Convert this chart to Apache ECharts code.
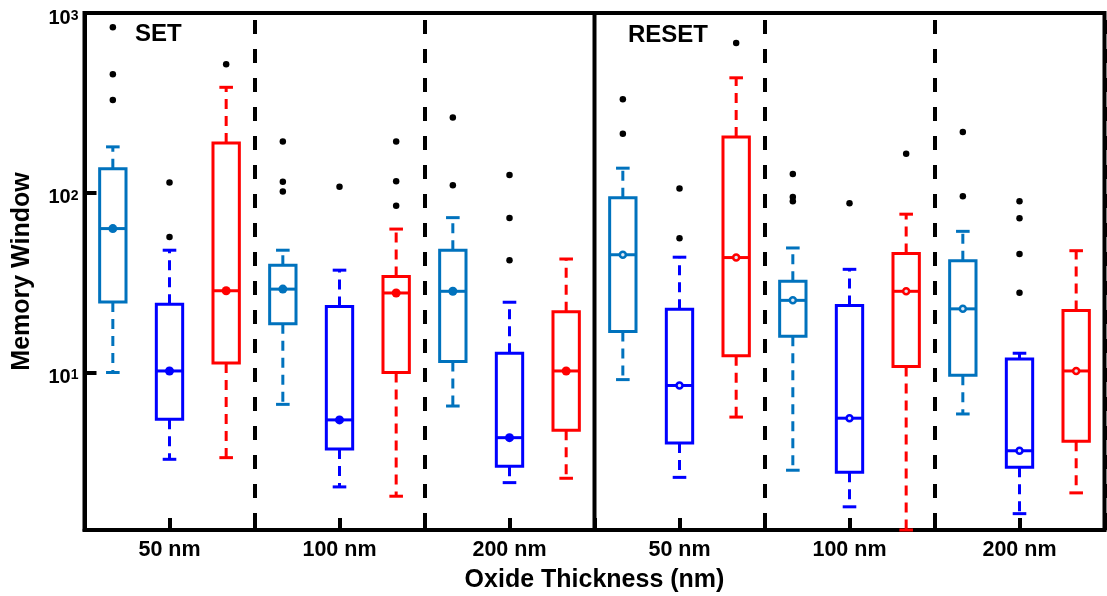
<!DOCTYPE html>
<html>
<head>
<meta charset="utf-8">
<script src="https://cdn.jsdelivr.net/npm/echarts@6/dist/echarts.min.js"></script>
<style>html,body{margin:0;padding:0;background:#fff;}#c{width:1107px;height:596px;}</style>
</head>
<body>
<div id="c"></div>
<script>
// ---- data ----
var modes = ['SET', 'RESET'];
var groupLabels = ['50 nm', '100 nm', '200 nm', '50 nm', '100 nm', '200 nm'];
var yTickValues = [10, 100, 1000];
var yMin = 1.33, yMax = 1000;
// box stats per group: [min, q1, median, q3, max]
var lightBlueBoxes = [
  [10.0, 24.7, 63.2, 136, 180],
  [6.65, 18.7, 29.1, 39.5, 47.9],
  [6.51, 11.5, 28.3, 47.9, 72.7],
  [9.13, 16.9, 45.2, 93.8, 137],
  [2.86, 15.9, 25.2, 32.2, 49.3],
  [5.88, 9.67, 22.6, 41.9, 61.0]
];
var blueBoxes = [
  [3.29, 5.50, 10.2, 24.0, 47.9],
  [2.31, 3.75, 5.45, 23.3, 37.1],
  [2.44, 3.01, 4.34, 12.8, 24.6],
  [2.61, 4.05, 8.47, 22.5, 43.8],
  [1.79, 2.79, 5.57, 23.6, 37.5],
  [1.64, 2.97, 3.67, 11.9, 12.8]
];
var redBoxes = [
  [3.36, 11.3, 28.5, 189, 386],
  [2.05, 10.0, 27.7, 34.2, 62.8],
  [2.58, 4.78, 10.2, 21.8, 42.8],
  [5.65, 12.4, 43.6, 204, 436],
  [1.33, 10.8, 28.3, 46.0, 76.0],
  [2.14, 4.15, 10.2, 22.1, 47.6]
];
var lightBlueOutliers = [[833, 456, 328], [193, 115, 101.6], [262, 110], [331, 213], [127, 94.6, 89.6], [218, 95.5]];
var blueOutliers = [[114, 56.8], [108], [125.6, 72.3, 42.1], [105.6, 55.8], [87.4], [89.6, 72.1, 45.6, 27.8]];
var redOutliers = [[519], [193, 116, 84.7], [], [681], [165], []];

// ---- build ----
var FONT = 'Liberation Sans, Arial, Helvetica, sans-serif';
var colors = ['#0072BD', '#0000FF', '#FF0000'];
var boxSets = [lightBlueBoxes, blueBoxes, redBoxes];
var outSets = [lightBlueOutliers, blueOutliers, redOutliers];
var slotsPerGroup = 3;
var slots = [];
for (var g = 0; g < groupLabels.length; g++) for (var k = 0; k < slotsPerGroup; k++) slots.push('g' + g + 's' + k);
var groupsPerMode = groupLabels.length / modes.length;

function renderBox(color) {
  return function (params, api) {
    var x = api.value(0);
    var v = [api.value(1), api.value(2), api.value(3), api.value(4), api.value(5)];
    var ys = v.map(function (val) { return api.coord([x, val])[1]; });
    var cx = api.coord([x, v[2]])[0];
    var band = api.size([1, 0], [x, v[2]])[0];
    var bw = band * 0.465, cw = band * 0.24;
    var hollow = Math.floor(x / slotsPerGroup) >= groupsPerMode;
    var ls = { stroke: color, lineWidth: 3, fill: 'none' };
    var ds = { stroke: color, lineWidth: 3, lineDash: [10, 7], fill: 'none' };
    return {
      type: 'group',
      children: [
        { type: 'line', shape: { x1: cx, y1: ys[3], x2: cx, y2: ys[4] }, style: ds },
        { type: 'line', shape: { x1: cx, y1: ys[1], x2: cx, y2: ys[0] }, style: ds },
        { type: 'line', shape: { x1: cx - cw / 2, y1: ys[4], x2: cx + cw / 2, y2: ys[4] }, style: ls },
        { type: 'line', shape: { x1: cx - cw / 2, y1: ys[0], x2: cx + cw / 2, y2: ys[0] }, style: ls },
        { type: 'rect', shape: { x: cx - bw / 2, y: ys[3], width: bw, height: ys[1] - ys[3] }, style: ls },
        { type: 'line', shape: { x1: cx - bw / 2, y1: ys[2], x2: cx + bw / 2, y2: ys[2] }, style: ls },
        hollow
          ? { type: 'circle', shape: { cx: cx, cy: ys[2], r: 3 }, style: { fill: '#dfe8f5', stroke: color, lineWidth: 2.5 } }
          : { type: 'circle', shape: { cx: cx, cy: ys[2], r: 4.5 }, style: { fill: color } }
      ]
    };
  };
}

var series = [];
// solid separator between SET and RESET halves (at the start of the first RESET slot)
series.push({
  type: 'custom', xAxisIndex: 0, yAxisIndex: 0, silent: true, z: 2,
  encode: { x: 0, y: 1 },
  data: [[groupsPerMode * slotsPerGroup, 10]],
  renderItem: function (params, api) {
    var xi = api.value(0);
    var band = api.size([1, 0], [xi, 10])[0];
    var x = api.coord([xi, 10])[0] - band / 2;
    var cs = params.coordSys;
    return { type: 'line', shape: { x1: x, y1: cs.y, x2: x, y2: cs.y + cs.height }, style: { stroke: '#000', lineWidth: 4 } };
  }
});
for (var c = 0; c < 3; c++) {
  var data = boxSets[c].map(function (b, gi) { return [gi * slotsPerGroup + c].concat(b); });
  series.push({
    type: 'custom', xAxisIndex: 0, yAxisIndex: 0,
    renderItem: renderBox(colors[c]),
    encode: { x: 0, y: [1, 2, 3, 4, 5] },
    data: data, z: 3
  });
}
var outData = [];
for (var c2 = 0; c2 < 3; c2++) {
  outSets[c2].forEach(function (arr, gi) {
    arr.forEach(function (val) { outData.push([gi * slotsPerGroup + c2, val]); });
  });
}
series.push({
  type: 'scatter', xAxisIndex: 0, yAxisIndex: 0,
  symbol: 'circle', symbolSize: 6.5,
  itemStyle: { color: '#000', opacity: 1 }, data: outData, z: 4
});

var option = {
  animation: false,
  backgroundColor: '#fff',
  grid: { left: 84.5, top: 13, width: 1020, height: 517, show: true, borderColor: '#000', borderWidth: 4, containLabel: false, outerBoundsMode: 'none' },
  xAxis: [
    {
      type: 'category', data: slots, position: 'bottom', boundaryGap: true,
      axisLine: { show: true, lineStyle: { color: '#000', width: 4 } },
      axisTick: { show: true, inside: true, length: 12, interval: function (i) { return i % 3 === 0; }, lineStyle: { color: '#000', width: 4 } },
      axisLabel: { show: false },
      splitLine: { show: true, interval: function (i) { return i % 3 === 0 && i % 9 !== 0; }, lineStyle: { color: '#000', width: 4, type: [14, 15], dashOffset: 22 } }
    },
    {
      type: 'category', data: groupLabels, position: 'bottom', boundaryGap: true,
      axisLine: { show: false },
      axisTick: { show: true, inside: true, alignWithLabel: true, length: 12, lineStyle: { color: '#000', width: 4 } },
      axisLabel: { show: true, margin: 9, color: '#000', fontSize: 21.5, fontWeight: 'bold', fontFamily: FONT },
      splitLine: { show: false },
      name: 'Oxide Thickness (nm)', nameLocation: 'middle', nameGap: 38,
      nameTextStyle: { color: '#000', fontSize: 25, fontWeight: 'bold', fontFamily: FONT }
    }
  ],
  yAxis: [{
    type: 'log', logBase: 10, min: yMin, max: yMax,
    axisLine: { show: true, lineStyle: { color: '#000', width: 4 } },
    axisTick: { show: true, inside: true, length: 12, lineStyle: { color: '#000', width: 4 } },
    splitLine: { show: false },
    minorTick: { show: false },
    axisLabel: {
      show: true, margin: 6, color: '#000',
      formatter: function (val) {
        var l = Math.log10(val), e = Math.round(l);
        if (Math.abs(l - e) > 1e-6 || yTickValues.indexOf(Math.pow(10, e)) < 0) return '';
        return '{b|10}{s|' + e + '}';
      },
      rich: {
        b: { fontSize: 20, lineHeight: 20, fontWeight: 'bold', fontFamily: FONT, color: '#000', padding: [10, 0, 0, 0] },
        s: { fontSize: 14, lineHeight: 14, fontWeight: 'bold', fontFamily: FONT, color: '#000', verticalAlign: 'top', padding: [6, 0, 0, 0] }
      }
    },
    name: 'Memory Window', nameLocation: 'middle', nameGap: 50,
    nameTextStyle: { color: '#000', fontSize: 25, fontWeight: 'bold', fontFamily: FONT }
  }],
  graphic: [
    { type: 'text', left: 135, top: 22, style: { text: modes[0], fontSize: 24, fontWeight: 'bold', fontFamily: FONT, fill: '#000' }, z: 10 },
    { type: 'text', left: 628, top: 23, style: { text: modes[1], fontSize: 24, fontWeight: 'bold', fontFamily: FONT, fill: '#000' }, z: 10 }
  ],
  series: series
};
var chart = echarts.init(document.getElementById('c'), null, { renderer: 'canvas' });
chart.setOption(option);
</script>
</body>
</html>
